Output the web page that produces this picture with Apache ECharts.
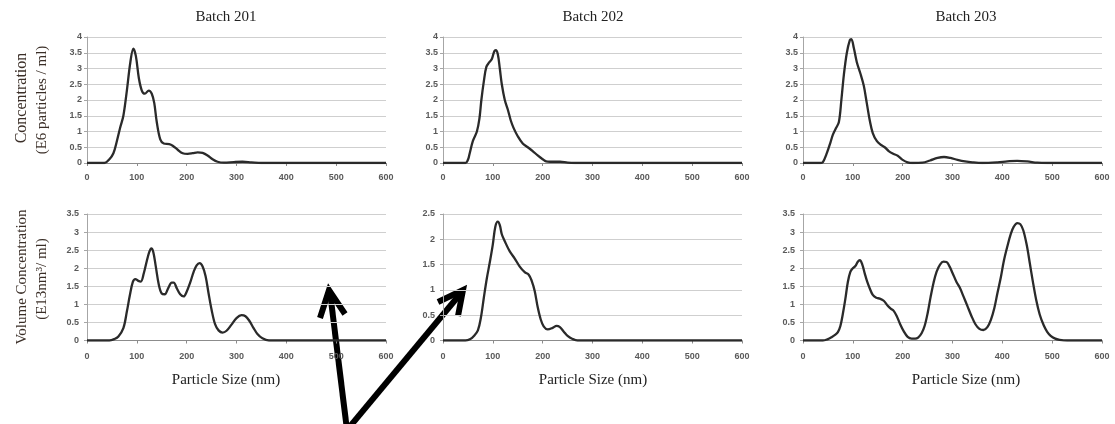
<!DOCTYPE html>
<html>
<head>
<meta charset="utf-8">
<script src="https://cdn.jsdelivr.net/npm/echarts@6/dist/echarts.min.js"></script>
<style>html,body{margin:0;padding:0;background:#fff}#c{width:1115px;height:424px}</style>
</head>
<body>
<div id="c"></div>
<script>
// ---- Data (particle size in nm) ----
const batches = ['Batch 201', 'Batch 202', 'Batch 203'];
const xTicks = [0, 100, 200, 300, 400, 500, 600];

const size201c = [0,35,45,53,60,67,73,80,87,93,98,104,110,116,124,130,135,140,147,154,165,172,182,192,202,212,222,232,242,252,262,275,295,312,330,350,600];
const conc201  = [0,0,0.12,0.31,0.7,1.15,1.5,2.3,3.2,3.63,3.4,2.7,2.3,2.2,2.3,2.2,1.9,1.3,0.75,0.62,0.6,0.55,0.42,0.31,0.29,0.31,0.34,0.32,0.24,0.12,0.04,0.01,0.03,0.04,0.02,0,0];

const size202c = [0,45,50,53,60,68,73,77,82,87,93,98,103,106,110,114,118,124,130,136,142,150,160,170,180,190,200,207,215,235,250,265,600];
const conc202  = [0,0,0.1,0.27,0.7,1.0,1.4,2.0,2.6,3.05,3.2,3.3,3.55,3.58,3.45,3.0,2.5,2.0,1.7,1.35,1.1,0.85,0.62,0.5,0.38,0.24,0.12,0.05,0.04,0.04,0.01,0,0];

const size203c = [0,35,40,48,55,60,66,72,77,82,88,94,97,102,108,115,122,128,134,140,148,156,164,172,180,190,200,210,220,240,255,270,283,296,310,325,340,360,390,410,430,450,470,490,600];
const conc203  = [0,0,0.03,0.32,0.65,0.9,1.1,1.3,2.0,2.8,3.5,3.9,3.93,3.65,3.2,2.85,2.45,1.9,1.35,0.95,0.7,0.58,0.5,0.38,0.3,0.23,0.1,0.02,0,0.01,0.08,0.16,0.19,0.16,0.1,0.05,0.02,0,0.02,0.05,0.07,0.05,0.01,0,0];

const size201v = [0,45,55,63,73,80,86,92,97,103,108,114,120,125,129,133,138,144,150,156,163,170,174,180,187,194,200,207,214,220,226,232,238,244,250,257,264,272,280,290,300,310,318,326,334,342,352,365,600];
const vol201   = [0,0,0.04,0.11,0.34,0.8,1.25,1.62,1.7,1.65,1.63,1.86,2.2,2.45,2.55,2.45,2.05,1.55,1.3,1.28,1.45,1.6,1.6,1.45,1.28,1.22,1.35,1.6,1.9,2.08,2.14,2.05,1.78,1.3,0.85,0.45,0.28,0.22,0.27,0.44,0.62,0.7,0.67,0.54,0.35,0.18,0.06,0,0];

const size202v = [0,45,55,62,70,76,82,88,94,100,105,110,114,118,124,134,144,154,164,172,178,184,190,196,202,210,220,228,234,242,250,260,270,600];
const vol202   = [0,0,0.03,0.09,0.2,0.45,0.85,1.23,1.55,1.9,2.25,2.35,2.28,2.1,1.96,1.76,1.62,1.46,1.35,1.3,1.18,0.98,0.66,0.42,0.28,0.22,0.25,0.29,0.27,0.18,0.09,0.03,0,0];

const size203v = [0,40,50,57,65,70,75,80,85,90,95,100,105,110,114,119,124,129,134,140,147,154,162,170,176,182,188,195,202,210,218,225,231,238,244,250,256,262,268,275,282,288,294,300,308,315,322,330,338,346,354,362,370,377,384,390,397,403,410,417,423,430,436,442,449,455,461,468,475,483,490,497,505,515,530,600];
const vol203   = [0,0,0.04,0.09,0.16,0.23,0.4,0.74,1.15,1.62,1.9,2.0,2.06,2.18,2.22,2.1,1.85,1.62,1.44,1.26,1.18,1.16,1.1,0.96,0.88,0.82,0.68,0.45,0.26,0.1,0.05,0.05,0.08,0.2,0.4,0.75,1.2,1.6,1.9,2.1,2.18,2.17,2.05,1.87,1.62,1.45,1.22,0.95,0.68,0.45,0.32,0.29,0.37,0.57,0.9,1.3,1.75,2.2,2.6,2.95,3.15,3.25,3.22,3.05,2.64,2.15,1.65,1.12,0.72,0.42,0.24,0.13,0.06,0.02,0,0];

const yMaxTop = [4, 4, 4];
const yMaxBottom = [3.5, 2.5, 3.5];

// ---- Build chart ----
function zip(xs, ys) { return xs.map((x, i) => [x, ys[i]]); }
const topSeries = [zip(size201c, conc201), zip(size202c, conc202), zip(size203c, conc203)];
const bottomSeries = [zip(size201v, vol201), zip(size202v, vol202), zip(size203v, vol203)];

const lefts = [87, 443, 803];
const W = 299;
const grids = [], xAxes = [], yAxes = [], series = [];
const tickFont = { fontSize: 9, fontWeight: 'bold', color: '#5a5a5a', fontFamily: 'Liberation Sans, Arial, sans-serif' };

for (let r = 0; r < 2; r++) {
  for (let c = 0; c < 3; c++) {
    const idx = r * 3 + c;
    grids.push({ left: lefts[c], width: W, top: r === 0 ? 37 : 214, height: r === 0 ? 126 : 126.5, containLabel: false });
    xAxes.push({
      gridIndex: idx, type: 'value', min: xTicks[0], max: xTicks[xTicks.length - 1], interval: 100,
      axisLine: { show: true, lineStyle: { color: '#8c8c8c', width: 1 } },
      axisTick: { show: true, length: 3, lineStyle: { color: '#8c8c8c' } },
      axisLabel: Object.assign({ margin: r === 0 ? 10 : 12 }, tickFont),
      splitLine: { show: false }
    });
    yAxes.push({
      gridIndex: idx, type: 'value', min: 0, max: r === 0 ? yMaxTop[c] : yMaxBottom[c], interval: 0.5,
      axisLine: { show: true, lineStyle: { color: '#a6a6a6', width: 1 } },
      axisTick: { show: true, length: 3, lineStyle: { color: '#a6a6a6' } },
      axisLabel: Object.assign({ margin: r === 0 ? 5 : 8 }, tickFont),
      splitLine: { show: true, lineStyle: { color: '#cfcfcf', width: 1 } }
    });
    series.push({
      type: 'line', xAxisIndex: idx, yAxisIndex: idx,
      data: r === 0 ? topSeries[c] : bottomSeries[c],
      smooth: 0.35, showSymbol: false, symbol: 'none',
      lineStyle: { color: '#2a2a2a', width: 2.3 },
      animation: false
    });
  }
}

const serif = '"Liberation Serif", "Times New Roman", serif';
const centers = [226, 593, 966];
const graphic = [];
batches.forEach((b, i) => {
  graphic.push({ type: 'text', x: centers[i], y: 17, style: { text: b, fontSize: 15, fontFamily: serif, fill: '#222', align: 'center', verticalAlign: 'middle' } });
  graphic.push({ type: 'text', x: centers[i], y: 380, style: { text: 'Particle Size (nm)', fontSize: 15, fontFamily: serif, fill: '#222', align: 'center', verticalAlign: 'middle' } });
});
const yNames = [
  { t: 'Concentration', x: 22, y: 98, s: 16 },
  { t: '(E6 particles / ml)', x: 42, y: 100, s: 15 },
  { t: 'Volume Concentration', x: 22, y: 277, s: 15 },
  { t: '(E13nm³/ ml)', x: 42, y: 279, s: 15 }
];
yNames.forEach(n => graphic.push({ type: 'text', x: n.x, y: n.y, rotation: Math.PI / 2,
  style: { text: n.t, fontSize: n.s, fontFamily: serif, fill: '#3a2e27', align: 'center', verticalAlign: 'middle' } }));

// annotation arrows
const arrowStyle = { stroke: '#000', lineWidth: 6, fill: null, lineJoin: 'miter', lineCap: 'butt' };
graphic.push({ type: 'polyline', shape: { points: [[347, 430], [330, 292]] }, style: arrowStyle });
graphic.push({ type: 'polyline', shape: { points: [[320, 318], [329, 290], [345, 314]] }, style: arrowStyle });
graphic.push({ type: 'polyline', shape: { points: [[347, 430], [461, 293]] }, style: arrowStyle });
graphic.push({ type: 'polyline', shape: { points: [[438, 302], [463, 290], [458, 316]] }, style: arrowStyle });

const chart = echarts.init(document.getElementById('c'), null, { renderer: 'canvas' });
chart.setOption({
  backgroundColor: '#fff',
  animation: false,
  grid: grids, xAxis: xAxes, yAxis: yAxes, series: series,
  graphic: graphic
});
</script>
</body>
</html>
